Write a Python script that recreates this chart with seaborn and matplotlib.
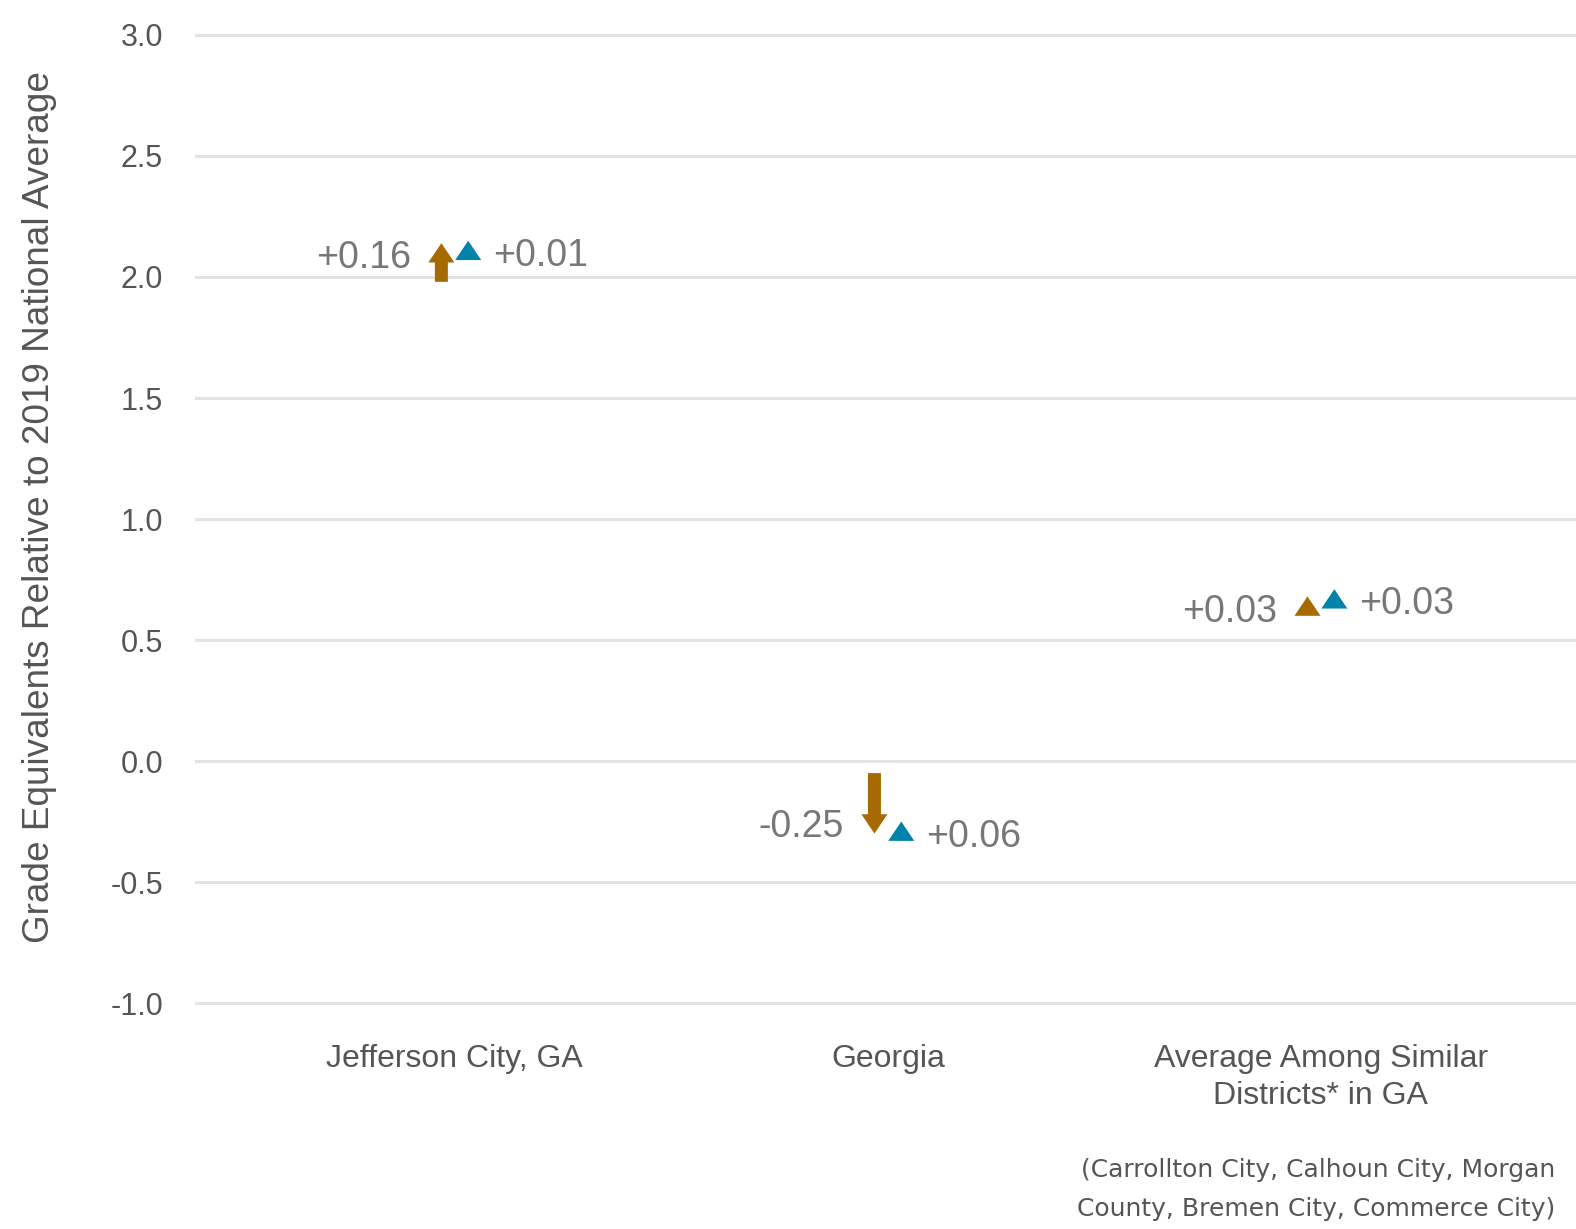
import matplotlib
matplotlib.use("Agg")
import matplotlib.pyplot as plt
import numpy as np
import pandas as pd
import seaborn as sns

# categories and the two arrow series (start -> end, grade equivalents)
categories = ["Jefferson City, GA", "Georgia", "Average Among Similar\nDistricts* in GA"]
first_start = [1.98, -0.05, 0.65]
first_end = [2.14, -0.30, 0.68]
second_start = [2.14, -0.31, 0.68]
second_end = [2.15, -0.25, 0.71]
y_ticks = [-1.0, -0.5, 0.0, 0.5, 1.0, 1.5, 2.0, 2.5, 3.0]
footnote = "(Carrollton City, Calhoun City, Morgan\nCounty, Bremen City, Commerce City)"

ORANGE = "#A66B00"
BLUE = "#0082A9"
GRID = "#E3E3E3"
TICK_GRAY = "#555555"
LABEL_GRAY = "#777777"

sns.set_theme(style="white")
plt.rcParams["font.family"] = ["Liberation Sans", "DejaVu Sans"]

rows = []
for i, cat in enumerate(categories):
    rows.append(dict(pos=i, series="first", start=first_start[i], end=first_end[i]))
    rows.append(dict(pos=i, series="second", start=second_start[i], end=second_end[i]))
df = pd.DataFrame(rows)
df["delta"] = df["end"] - df["start"]

fig = plt.figure(figsize=(7.88, 6.145), dpi=200)
ax = fig.add_axes([0.1237, 0.1819, 0.8763, 0.7916])

ax.set_xlim(-0.6, 2.589)
ax.set_ylim(-1.01, 3.01)
ax.set_yticks(y_ticks)
ax.set_yticklabels([f"{t:.1f}" for t in y_ticks])
ax.yaxis.grid(True, color=GRID, linewidth=1.1)
ax.set_axisbelow(True)
sns.despine(ax=ax, left=True, bottom=True)
ax.tick_params(axis="y", length=0, pad=11.5, labelsize=11, labelcolor=TICK_GRAY)
ax.tick_params(axis="x", length=0, pad=14, labelsize=11.5, labelcolor=TICK_GRAY)
ax.set_xticks(range(len(categories)))
ax.set_xticklabels(categories, multialignment="center", linespacing=1.27)

ax.set_ylabel("Grade Equivalents Relative to 2019 National Average",
              fontsize=13.3, color=TICK_GRAY)
ax.yaxis.set_label_coords(-0.1, 0.512)

offset = 0.031
head_len = 0.080
for _, r in df.iterrows():
    first = r["series"] == "first"
    x = r["pos"] - offset if first else r["pos"] + offset
    color = ORANGE if first else BLUE
    sign = np.sign(r["delta"])
    # a change smaller than the head is drawn as a head alone, tip on the end value
    length = max(abs(r["delta"]), head_len)
    ax.arrow(x, r["end"] - sign * length, 0, sign * length, width=0.030,
             head_width=0.060, head_length=head_len, length_includes_head=True,
             color=color, lw=0)
    ax.annotate(f"{r['delta']:+.2f}", xy=(x, r["end"] - sign * 0.045),
                xytext=(-11 if first else 9, -1.5), textcoords="offset points",
                ha="right" if first else "left", va="center",
                fontsize=13.5, color=LABEL_GRAY)

fig.text(1555 / 1576, 1 - 1158 / 1229, footnote, ha="right", va="top",
         fontsize=9, color=TICK_GRAY, linespacing=1.78,
         family=["DejaVu Sans"])

fig.savefig("out.png", dpi=200)
